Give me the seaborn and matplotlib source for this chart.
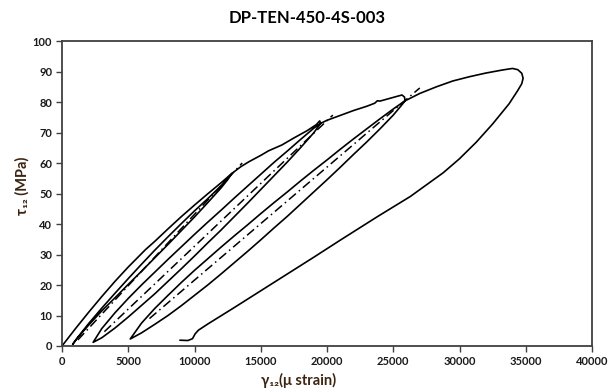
import matplotlib
matplotlib.use("Agg")
import matplotlib.pyplot as plt
import seaborn as sns

# ---- data ----
# single continuous load/unload/reload trace
strain = [
    # envelope to first unloading point
    0, 1000, 2000, 3000, 4000, 5000, 6000, 6300, 7000, 8000, 9000, 10000, 11000, 12000, 12830,
    # loop 1 unload
    12500, 12000, 11000, 10000, 9000, 8000, 7000, 6000, 5000, 4000, 3000, 2000, 1200, 800,
    # loop 1 reload
    1000, 2000, 3000, 4000, 5000, 6000, 7000, 8000, 9000, 10000, 11000, 12000, 12830,
    # envelope to second unloading point
    13500, 14100, 15000, 15590, 16590, 17500, 18500, 19200, 19450, 19520,
    # loop 2 unload
    19000, 18000, 17000, 16000, 15000, 14000, 13000, 12000, 11000, 10000, 9000, 8000, 7000, 6000, 5000, 4000, 3000, 2350,
    # loop 2 reload
    3000, 4000, 5000, 6000, 7000, 8000, 9000, 10000, 11000, 12000, 13000, 14000, 15000, 16000, 17000, 18000, 19000, 19520,
    # envelope to third unloading point
    20000, 21000, 22000, 23000, 23600, 23800, 24000, 25000, 25660, 25850, 25890,
    # loop 3 unload
    25600, 25000, 24000, 23000, 22000, 21000, 20000, 19000, 18000, 17000, 16000, 15000, 14000, 13000, 12000, 11000, 10000, 9000, 8000, 7000, 6000, 5150,
    # loop 3 reload
    6000, 7000, 8000, 9000, 10000, 11000, 12000, 13000, 14000, 15000, 16000, 17000, 18000, 19000, 20000, 21000, 22000, 23000, 24000, 25000, 25890,
    # envelope to peak and final unloading
    26040, 27000, 28270, 29500, 30760, 32000, 33250, 34000, 34400, 34700, 34800, 34700, 34400, 33740, 32500, 31260, 30000, 28770,
    26280, 23800, 21000, 19000, 17000, 15000, 13000, 12000, 11000, 10300, 10050, 9850, 9500, 8900,
]
stress = [
    0, 5.6, 11.0, 16.2, 21.2, 25.9, 30.3, 31.6, 34.3, 38.4, 42.4, 46.2, 49.9, 53.5, 56.6,
    54.5, 51.8, 47.0, 42.3, 37.8, 33.3, 28.9, 24.5, 20.2, 15.8, 11.5, 6.8, 2.8, 0.5,
    1.8, 7.3, 12.4, 17.3, 22.1, 26.8, 31.4, 35.8, 40.1, 44.3, 48.3, 52.5, 56.6,
    58.8, 60.4, 62.5, 64.0, 65.9, 68.2, 70.6, 72.6, 73.8, 73.0,
    69.9, 65.0, 60.3, 55.8, 51.3, 46.8, 42.4, 38.0, 33.8, 29.5, 25.3, 21.2, 17.1, 13.3, 9.5, 5.9, 2.7, 1.2,
    5.7, 10.9, 15.6, 20.0, 24.2, 28.4, 32.5, 36.6, 40.6, 44.5, 48.5, 52.4, 56.3, 60.2, 63.9, 67.7, 71.4, 73.0,
    74.0, 75.6, 77.2, 78.6, 79.6, 80.4, 80.3, 81.5, 82.3, 81.6, 80.4,
    78.8, 75.7, 71.2, 66.9, 62.8, 58.6, 54.5, 50.5, 46.5, 42.5, 38.7, 34.8, 31.0, 27.3, 23.6, 20.0, 16.6, 13.2, 10.0, 7.1, 4.3, 2.3,
    7.5, 12.3, 16.6, 20.8, 24.8, 28.6, 32.4, 36.1, 39.7, 43.4, 47.0, 50.5, 54.1, 57.6, 61.0, 64.5, 67.9, 71.2, 74.5, 77.7, 80.4,
    80.7, 82.8, 85.0, 86.9, 88.3, 89.5, 90.5, 91.0, 90.6, 89.4, 87.8, 86.0, 83.8, 79.4, 72.8, 66.8, 61.4, 56.8,
    49.0, 42.4, 34.7, 29.1, 23.6, 18.1, 12.6, 9.9, 7.2, 5.2, 4.0, 2.4, 1.8, 1.9,
]

# dash-dot secant (modulus) lines, one per loop: start and end points
fit1_x = [1200, 13600]
fit1_y = [2.0, 60.0]
fit2_x = [3200, 20440]
fit2_y = [4.7, 75.7]
fit3_x = [6600, 27000]
fit3_y = [9.0, 84.6]

x_ticks = [0, 5000, 10000, 15000, 20000, 25000, 30000, 35000, 40000]
y_ticks = [0, 10, 20, 30, 40, 50, 60, 70, 80, 90, 100]

title = "DP-TEN-450-4S-003"
xlabel = "γ₁₂(μ strain)"
ylabel = "τ₁₂ (MPa)"

# ---- style ----
sns.set_theme(style="white")
fam = ["Lato", "DejaVu Sans"]
plt.rcParams["font.family"] = fam

fig = plt.figure(figsize=(6.08, 3.92), dpi=100)
ax = fig.add_axes([62 / 608, 1 - 346 / 392, 530 / 608, 305 / 392])

sns.lineplot(x=strain, y=stress, sort=False, estimator=None, ax=ax,
             color="black", linewidth=1.2)
for fx, fy in [(fit1_x, fit1_y), (fit2_x, fit2_y), (fit3_x, fit3_y)]:
    sns.lineplot(x=fx, y=fy, sort=False, estimator=None, ax=ax,
                 color="black", linewidth=1.1, dashes=False)
    ax.lines[-1].set_dashes([6, 2.5, 1, 2.5])

ax.set_xlim(0, 40000)
ax.set_ylim(0, 100)
ax.set_xticks(x_ticks)
ax.set_yticks(y_ticks)
ax.set_xticklabels([str(t) for t in x_ticks], fontsize=8, fontweight="bold", color="#1a1a1a")
ax.set_yticklabels([str(t) for t in y_ticks], fontsize=8, fontweight="bold", color="#1a1a1a")
ax.tick_params(axis="both", which="both", direction="out", length=4, width=1,
               color="#404040", bottom=True, left=True, pad=3)
for s in ax.spines.values():
    s.set_visible(True)
    s.set_color("#404040")
    s.set_linewidth(1.3)
ax.grid(False)
ax.set_xlabel("")
ax.set_ylabel("")

fig.text(307 / 608, 1 - 18 / 392, title, ha="center", va="center",
         fontsize=12, fontweight="bold", color="black", family=fam)
fig.text(299 / 608, 1 - 380 / 392, xlabel, ha="center", va="center",
         fontsize=10.5, fontweight="bold", color="#3d2410", family=fam)
fig.text(22 / 608, 1 - 186 / 392, ylabel, ha="center", va="center", rotation=90,
         fontsize=10.5, fontweight="bold", color="#3d2410", family=fam)

fig.savefig("out.png", dpi=100)
